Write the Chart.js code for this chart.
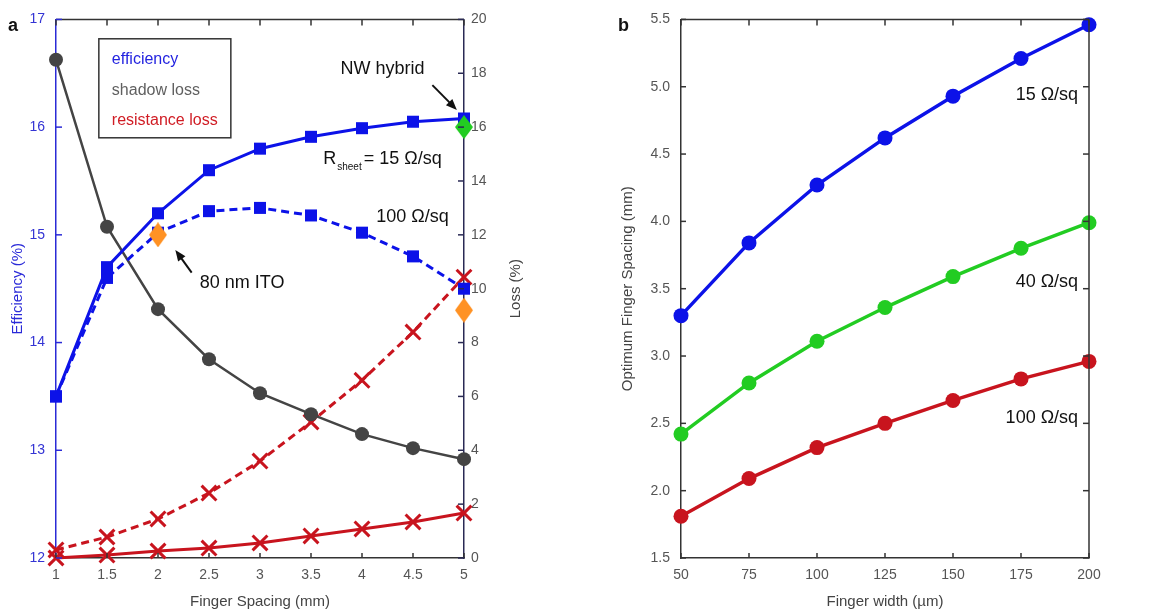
<!DOCTYPE html>
<html>
<head>
<meta charset="utf-8">
<script src="https://cdn.jsdelivr.net/npm/chart.js@4.4.1/dist/chart.umd.min.js"></script>
<style>
  html, body { margin: 0; background: #fff; }
  body { width: 1160px; height: 612px; position: relative; overflow: hidden; }
  .panel { position: absolute; top: 0; height: 612px; }
  #wrapA { left: 0; width: 530px; }
  #wrapB { left: 610px; width: 510px; }
</style>
</head>
<body>
<div class="panel" id="wrapA"><canvas id="chartA"></canvas></div>
<div class="panel" id="wrapB"><canvas id="chartB"></canvas></div>
<script>
/* ---------- Data ---------- */
// panel a
const spacing = [1, 1.5, 2, 2.5, 3, 3.5, 4, 4.5, 5];
const eff15 = [13.5, 14.7, 15.2, 15.6, 15.8, 15.91, 15.99, 16.05, 16.08];
const eff100 = [13.5, 14.6, 15.02, 15.22, 15.25, 15.18, 15.02, 14.8, 14.5];
const shadowLoss = [18.5, 12.3, 9.24, 7.38, 6.12, 5.34, 4.6, 4.08, 3.67];
const resLoss15 = [0.0, 0.11, 0.26, 0.37, 0.56, 0.82, 1.08, 1.34, 1.67];
const resLoss100 = [0.3, 0.78, 1.45, 2.41, 3.6, 5.05, 6.6, 8.39, 10.43];
const itoSpacing = [2, 5];
const itoEff = [15.0, 14.3];
const nwSpacing = [5];
const nwEff = [16.0];
const spacingTicks = [1, 1.5, 2, 2.5, 3, 3.5, 4, 4.5, 5];
const effTicks = [12, 13, 14, 15, 16, 17];
const lossTicks = [0, 2, 4, 6, 8, 10, 12, 14, 16, 18, 20];

// panel b
const fingerWidth = [50, 75, 100, 125, 150, 175, 200];
const opt15 = [3.3, 3.84, 4.27, 4.62, 4.93, 5.21, 5.46];
const opt40 = [2.42, 2.8, 3.11, 3.36, 3.59, 3.8, 3.99];
const opt100 = [1.81, 2.09, 2.32, 2.5, 2.67, 2.83, 2.96];
const widthTicks = [50, 75, 100, 125, 150, 175, 200];
const optTicks = [1.5, 2.0, 2.5, 3.0, 3.5, 4.0, 4.5, 5.0, 5.5];

/* ---------- Utilities ---------- */
const FONT = '"Liberation Sans", Arial, Helvetica, sans-serif';
const BLUE = '#0c12e8';
const GREY = '#444444';
const RED = '#c8141e';
const GREEN = '#22cc22';
const ORANGE = '#ff9224';

const pts = (xs, ys) => xs.map((x, i) => ({ x, y: ys[i] }));
const setTicks = (arr) => (s) => { s.ticks = arr.map(v => ({ value: v })); };

function diamond(color, w, h){
  const c = document.createElement('canvas');
  c.width = w; c.height = h;
  const g = c.getContext('2d');
  g.fillStyle = color;
  g.beginPath();
  g.moveTo(w / 2, 0); g.lineTo(w, h / 2); g.lineTo(w / 2, h); g.lineTo(0, h / 2);
  g.closePath();
  g.fill();
  return c;
}
function line(ctx, x1, y1, x2, y2){
  ctx.beginPath(); ctx.moveTo(x1, y1); ctx.lineTo(x2, y2); ctx.stroke();
}
function arrow(ctx, x1, y1, x2, y2){
  const ang = Math.atan2(y2 - y1, x2 - x1);
  const L = 11, W = 4.5;
  ctx.lineWidth = 2;
  line(ctx, x1, y1, x2 - Math.cos(ang) * L * 0.8, y2 - Math.sin(ang) * L * 0.8);
  ctx.beginPath();
  ctx.moveTo(x2, y2);
  ctx.lineTo(x2 - Math.cos(ang) * L - Math.sin(ang) * W, y2 - Math.sin(ang) * L + Math.cos(ang) * W);
  ctx.lineTo(x2 - Math.cos(ang) * L + Math.sin(ang) * W, y2 - Math.sin(ang) * L - Math.cos(ang) * W);
  ctx.closePath();
  ctx.fill();
}
function tickMarks(ctx, scale, side, area, len){
  scale.ticks.forEach(t => {
    const p = scale.getPixelForValue(t.value);
    if (side === 'top') line(ctx, p, area.top, p, area.top + len);
    if (side === 'bottom') line(ctx, p, area.bottom, p, area.bottom - len);
    if (side === 'left') line(ctx, area.left, p, area.left + len, p);
    if (side === 'right') line(ctx, area.right, p, area.right - len, p);
  });
}

/* ---------- Panel a ---------- */
const panelA = {
  id: 'panelA',
  afterDatasetsDraw(chart){
    const { ctx, chartArea: a, scales: { x, y, y2 } } = chart;
    ctx.save();
    // frame and inner ticks
    ctx.lineWidth = 1.5;
    ctx.strokeStyle = '#333';
    line(ctx, a.left, a.top, a.right, a.top);
    tickMarks(ctx, x, 'top', a, 6);
    tickMarks(ctx, x, 'bottom', a, 5);
    ctx.strokeStyle = '#2b2bd6';
    tickMarks(ctx, y, 'left', a, 6);
    ctx.strokeStyle = '#2a2a55';
    tickMarks(ctx, y2, 'right', a, 6);

    // legend box
    const lx = x.getPixelForValue(1.42), ly = y.getPixelForValue(16.82);
    const lw = 132, lh = 99;
    ctx.fillStyle = '#fff';
    ctx.fillRect(lx, ly, lw, lh);
    ctx.strokeStyle = '#333';
    ctx.lineWidth = 1.5;
    ctx.strokeRect(lx, ly, lw, lh);
    ctx.font = `16px ${FONT}`;
    ctx.textBaseline = 'middle';
    ctx.textAlign = 'left';
    [['efficiency', '#2424e0'], ['shadow loss', '#606060'], ['resistance loss', '#d01c24']]
      .forEach(([t, c], i) => { ctx.fillStyle = c; ctx.fillText(t, lx + 13, ly + 21 + i * 30.5); });

    // annotations
    ctx.fillStyle = '#111';
    ctx.strokeStyle = '#111';
    ctx.textBaseline = 'alphabetic';
    ctx.font = `18px ${FONT}`;
    ctx.fillText('NW hybrid', x.getPixelForValue(3.79), y.getPixelForValue(16.49));
    arrow(ctx, x.getPixelForValue(4.69), y.getPixelForValue(16.39), x.getPixelForValue(4.93), y.getPixelForValue(16.16));

    let rx = x.getPixelForValue(3.62);
    const ry = y.getPixelForValue(15.66);
    ctx.font = `18px ${FONT}`;
    ctx.fillText('R', rx, ry);
    rx += ctx.measureText('R').width + 1;
    ctx.font = `10px ${FONT}`;
    ctx.fillText('sheet', rx, ry + 6);
    rx += ctx.measureText('sheet').width + 2;
    ctx.font = `18px ${FONT}`;
    ctx.fillText('= 15 Ω/sq', rx, ry);

    ctx.fillText('100 Ω/sq', x.getPixelForValue(4.14), y.getPixelForValue(15.12));
    ctx.fillText('80 nm ITO', x.getPixelForValue(2.41), y.getPixelForValue(14.51));
    arrow(ctx, x.getPixelForValue(2.33), y.getPixelForValue(14.65), x.getPixelForValue(2.17), y.getPixelForValue(14.86));

    // right-axis title, read bottom to top like the left one
    ctx.save();
    ctx.translate(y2.right - 14, (a.top + a.bottom) / 2);
    ctx.rotate(-Math.PI / 2);
    ctx.textAlign = 'center';
    ctx.textBaseline = 'middle';
    ctx.font = `15px ${FONT}`;
    ctx.fillStyle = '#444';
    ctx.fillText('Loss (%)', 0, 0);
    ctx.restore();

    // panel letter
    ctx.font = `bold 18px ${FONT}`;
    ctx.fillStyle = '#111';
    ctx.textAlign = 'left';
    ctx.fillText('a', 8, 31);
    ctx.restore();
  }
};

const squareOpts = { pointStyle: 'rect', pointRadius: 8.5, pointHoverRadius: 8.5, pointBorderWidth: 0 };
const circleOpts = { pointStyle: 'circle', pointRadius: 7, pointHoverRadius: 7, pointBorderWidth: 0 };
const crossOpts = { pointStyle: 'crossRot', pointRadius: 10.5, pointHoverRadius: 10.5, pointBorderWidth: 3 };

new Chart(document.getElementById('chartA'), {
  type: 'line',
  data: {
    datasets: [
      { label: 'NW hybrid', data: pts(nwSpacing, nwEff), yAxisID: 'y', showLine: false,
        pointStyle: diamond(GREEN, 18, 24), pointRadius: 10, clip: false },
      { label: '80 nm ITO', data: pts(itoSpacing, itoEff), yAxisID: 'y', showLine: false,
        pointStyle: diamond(ORANGE, 18, 25), pointRadius: 10, clip: false },
      { label: 'efficiency 15', data: pts(spacing, eff15), yAxisID: 'y', borderColor: BLUE,
        backgroundColor: BLUE, borderWidth: 3, ...squareOpts, clip: false },
      { label: 'efficiency 100', data: pts(spacing, eff100), yAxisID: 'y', borderColor: BLUE,
        backgroundColor: BLUE, borderWidth: 3, borderDash: [8, 5], ...squareOpts, clip: false },
      { label: 'shadow loss', data: pts(spacing, shadowLoss), yAxisID: 'y2', borderColor: GREY,
        backgroundColor: GREY, borderWidth: 2.5, ...circleOpts, clip: false },
      { label: 'resistance loss 15', data: pts(spacing, resLoss15), yAxisID: 'y2', borderColor: RED,
        backgroundColor: RED, borderWidth: 3, ...crossOpts, clip: false },
      { label: 'resistance loss 100', data: pts(spacing, resLoss100), yAxisID: 'y2', borderColor: RED,
        backgroundColor: RED, borderWidth: 3, borderDash: [8, 5], ...crossOpts, clip: false }
    ]
  },
  options: {
    responsive: true,
    maintainAspectRatio: false,
    animation: false,
    layout: { padding: { top: 19, left: 0, right: 0, bottom: 0 } },
    plugins: { legend: { display: false }, tooltip: { enabled: false } },
    scales: {
      x: {
        type: 'linear', min: 1, max: 5,
        afterBuildTicks: setTicks(spacingTicks),
        afterFit: (s) => { s.height = 54; },
        grid: { display: false, drawTicks: false },
        border: { color: '#333', width: 1.5 },
        ticks: { color: '#555', font: { family: FONT, size: 14 }, padding: 9, maxRotation: 0,
                 callback: (v) => String(v) },
        title: { display: true, text: 'Finger Spacing (mm)', color: '#444',
                 font: { family: FONT, size: 15 }, padding: { top: 0, bottom: 1 } }
      },
      y: {
        type: 'linear', position: 'left', min: 12, max: 17,
        afterBuildTicks: setTicks(effTicks),
        afterFit: (s) => { s.width = 56; },
        grid: { display: false, drawTicks: false },
        border: { color: '#2b2bd6', width: 1.5 },
        ticks: { color: '#3434d4', font: { family: FONT, size: 14 }, padding: 11,
                 callback: (v) => String(v) },
        title: { display: true, text: 'Efficiency (%)', color: '#2a2ad8',
                 font: { family: FONT, size: 15 }, padding: { top: 9, bottom: 0 } }
      },
      y2: {
        type: 'linear', position: 'right', min: 0, max: 20,
        afterBuildTicks: setTicks(lossTicks),
        afterFit: (s) => { s.width = 66; },
        grid: { display: false, drawTicks: false },
        border: { color: '#2a2a55', width: 1.5 },
        ticks: { color: '#555', font: { family: FONT, size: 14 }, padding: 7,
                 callback: (v) => String(v) }
      }
    }
  },
  plugins: [panelA]
});

/* ---------- Panel b ---------- */
const panelB = {
  id: 'panelB',
  afterDatasetsDraw(chart){
    const { ctx, chartArea: a, scales: { x, y } } = chart;
    ctx.save();
    ctx.lineWidth = 1.5;
    ctx.strokeStyle = '#333';
    line(ctx, a.left, a.top, a.right, a.top);
    line(ctx, a.right, a.top, a.right, a.bottom);
    tickMarks(ctx, x, 'top', a, 6);
    tickMarks(ctx, x, 'bottom', a, 5);
    tickMarks(ctx, y, 'left', a, 5);
    tickMarks(ctx, y, 'right', a, 6);

    ctx.fillStyle = '#111';
    ctx.font = `18px ${FONT}`;
    ctx.textAlign = 'right';
    ctx.textBaseline = 'alphabetic';
    ctx.fillText('15 Ω/sq', x.getPixelForValue(196), y.getPixelForValue(4.9));
    ctx.fillText('40 Ω/sq', x.getPixelForValue(196), y.getPixelForValue(3.51));
    ctx.fillText('100 Ω/sq', x.getPixelForValue(196), y.getPixelForValue(2.5));

    ctx.font = `bold 18px ${FONT}`;
    ctx.textAlign = 'left';
    ctx.fillText('b', 8, 31);
    ctx.restore();
  }
};

const dotB = { pointStyle: 'circle', pointRadius: 7.5, pointHoverRadius: 7.5, pointBorderWidth: 0, borderWidth: 3.5, clip: false };

new Chart(document.getElementById('chartB'), {
  type: 'line',
  data: {
    datasets: [
      { label: '15 Ω/sq', data: pts(fingerWidth, opt15), borderColor: BLUE, backgroundColor: BLUE, ...dotB },
      { label: '40 Ω/sq', data: pts(fingerWidth, opt40), borderColor: GREEN, backgroundColor: GREEN, ...dotB },
      { label: '100 Ω/sq', data: pts(fingerWidth, opt100), borderColor: RED, backgroundColor: RED, ...dotB }
    ]
  },
  options: {
    responsive: true,
    maintainAspectRatio: false,
    animation: false,
    layout: { padding: { top: 19, left: 0, right: 31, bottom: 0 } },
    plugins: { legend: { display: false }, tooltip: { enabled: false } },
    scales: {
      x: {
        type: 'linear', min: 50, max: 200,
        afterBuildTicks: setTicks(widthTicks),
        afterFit: (s) => { s.height = 54; },
        grid: { display: false, drawTicks: false },
        border: { color: '#333', width: 1.5 },
        ticks: { color: '#555', font: { family: FONT, size: 14 }, padding: 9, maxRotation: 0,
                 callback: (v) => String(v) },
        title: { display: true, text: 'Finger width (µm)', color: '#444',
                 font: { family: FONT, size: 15 }, padding: { top: 0, bottom: 1 } }
      },
      y: {
        type: 'linear', min: 1.5, max: 5.5,
        afterBuildTicks: setTicks(optTicks),
        afterFit: (s) => { s.width = 71; },
        grid: { display: false, drawTicks: false },
        border: { color: '#333', width: 1.5 },
        ticks: { color: '#555', font: { family: FONT, size: 14 }, padding: 11,
                 callback: (v) => Number(v).toFixed(1) },
        title: { display: true, text: 'Optimum Finger Spacing (mm)', color: '#444',
                 font: { family: FONT, size: 15 }, padding: { top: 9, bottom: 0 } }
      }
    }
  },
  plugins: [panelB]
});
</script>
</body>
</html>
